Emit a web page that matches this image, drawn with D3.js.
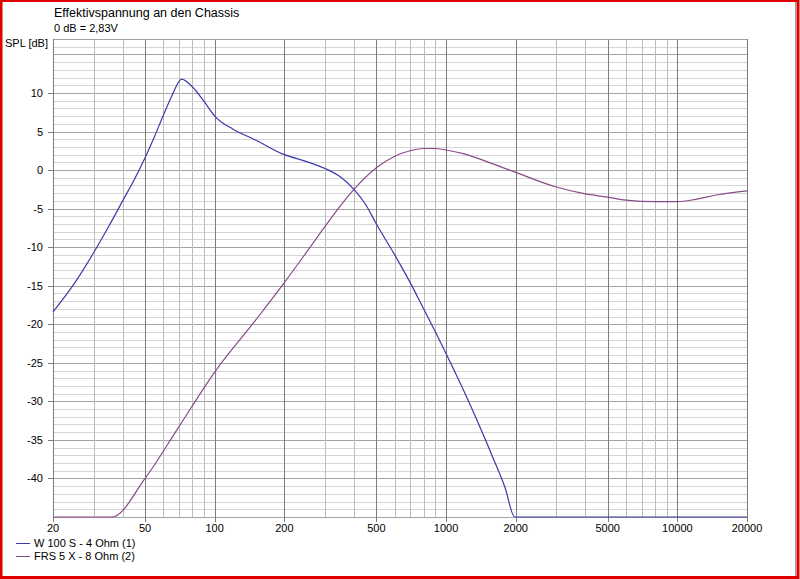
<!DOCTYPE html>
<html><head><meta charset="utf-8">
<script src="https://cdn.jsdelivr.net/npm/d3@7"></script>
<style>body{margin:0;background:#fff;}svg{display:block;}</style>
</head><body>
<svg id="c" width="800" height="579"></svg>
<script>
const title = "Effektivspannung an den Chassis";
const subtitle = "0 dB = 2,83V";
const yTitle = "SPL [dB]";
const xTickLabels = [20, 50, 100, 200, 500, 1000, 2000, 5000, 10000, 20000];
const xMinorGrid = [30,40,60,70,80,90,300,400,600,700,800,900,3000,4000,6000,7000,8000,9000];
const yTickLabels = [10, 5, 0, -5, -10, -15, -20, -25, -30, -35, -40];
const seriesNames = ["W 100 S - 4 Ohm (1)", "FRS 5 X - 8 Ohm (2)"];
const seriesColors = ["#3a3aaa", "#8a4a8a"];

const w100Freq = [20, 25, 30, 35, 40, 45, 50, 55, 60, 65, 72, 80, 90, 100, 120, 150, 200, 250, 300, 350, 400, 450, 500, 600, 700, 800, 900, 1000, 1200, 1400, 1600, 1800, 1980, 5000, 20000];
const w100Db   = [-18.4, -14.5, -10.7, -7.2, -4.0, -1.2, 1.6, 4.4, 7.1, 9.5, 11.8, 10.8, 8.9, 7.0, 5.3, 3.9, 2.0, 1.1, 0.2, -0.9, -2.5, -4.5, -7.0, -11.0, -14.6, -18.0, -21.0, -23.8, -28.8, -33.3, -37.4, -41.2, -45, -45, -45];

const frsFreq = [20, 36, 50, 70, 100, 150, 200, 250, 300, 350, 400, 500, 600, 700, 800, 900, 1000, 1200, 1500, 2000, 3000, 4000, 5000, 6000, 8000, 10000, 12000, 15000, 20000];
const frsDb   = [-45, -45, -40, -33.3, -26.2, -19.5, -14.6, -10.6, -7.3, -4.6, -2.5, 0.3, 1.8, 2.5, 2.8, 2.8, 2.6, 2.1, 1.1, -0.3, -2.2, -3.1, -3.5, -3.9, -4.1, -4.1, -3.8, -3.2, -2.7];

const svg = d3.select("#c");
const L = 53, R = 747, T = 39, B = 517;
const x = d3.scaleLog().domain([20, 20000]).range([L, R]);
const y = d3.scaleLinear().domain([-45, 17]).range([B, T]);
const font = "'Liberation Sans', Arial, sans-serif";

svg.append("rect").attr("x",0).attr("y",0).attr("width",800).attr("height",579).attr("fill","#fff");
// horizontal grid
const yMinor = d3.range(-45, 18, 1);
svg.append("g").selectAll("line").data(yMinor).join("line")
  .attr("x1", L).attr("x2", R).attr("y1", d=>Math.round(y(d))+0.5).attr("y2", d=>Math.round(y(d))+0.5)
  .attr("stroke", d => d % 5 === 0 ? "#a4a4a4" : "#d6d6d6").attr("stroke-width",1);
// vertical grid
svg.append("g").selectAll("line").data(xMinorGrid).join("line")
  .attr("x1", d=>Math.round(x(d))+0.5).attr("x2", d=>Math.round(x(d))+0.5).attr("y1", T).attr("y2", B)
  .attr("stroke", "#bdbdbd");
svg.append("g").selectAll("line").data(xTickLabels).join("line")
  .attr("x1", d=>Math.round(x(d))+0.5).attr("x2", d=>Math.round(x(d))+0.5).attr("y1", T).attr("y2", B+5)
  .attr("stroke", "#7c7c7c");
svg.append("line").attr("x1",L).attr("x2",R).attr("y1",T+0.5).attr("y2",T+0.5).attr("stroke","#a4a4a4");
// y ticks
svg.append("g").selectAll("line").data(yTickLabels).join("line")
  .attr("x1", L-5).attr("x2", L).attr("y1", d=>Math.round(y(d))+0.5).attr("y2", d=>Math.round(y(d))+0.5)
  .attr("stroke", "#7c7c7c");
svg.append("line").attr("x1",L+0.5).attr("x2",L+0.5).attr("y1",T).attr("y2",B).attr("stroke","#7c7c7c");

// y labels
svg.append("g").selectAll("text").data(yTickLabels).join("text")
  .attr("x", L-10).attr("y", d=>y(d)+4).attr("text-anchor","end")
  .attr("font-family",font).attr("font-size",11).attr("fill","#000")
  .text(d => d < 0 ? "-" + Math.abs(d) : d);
// x labels
svg.append("g").selectAll("text").data(xTickLabels).join("text")
  .attr("x", d=>x(d)).attr("y", B+15).attr("text-anchor","middle")
  .attr("font-family",font).attr("font-size",11).attr("fill","#000")
  .text(d=>d);

svg.append("text").attr("x",L+1).attr("y",17).attr("font-family",font).attr("font-size",12.5).text(title);
svg.append("text").attr("x",L+1).attr("y",32).attr("font-family",font).attr("font-size",11).text(subtitle);
svg.append("text").attr("x",L-5).attr("y",47).attr("text-anchor","end").attr("font-family",font).attr("font-size",11).text(yTitle);

// curves
const line = d3.line().x(d=>x(d[0])).y(d=>y(d[1])).curve(d3.curveMonotoneX);
svg.append("path").datum(frsFreq.map((f,i)=>[f, frsDb[i]])).attr("d", line)
  .attr("fill","none").attr("stroke",seriesColors[1]).attr("stroke-width",1.2);
svg.append("path").datum(w100Freq.map((f,i)=>[f, w100Db[i]])).attr("d", line)
  .attr("fill","none").attr("stroke",seriesColors[0]).attr("stroke-width",1.2);

// legend
const lg = svg.append("g").selectAll("g").data(seriesNames).join("g")
  .attr("transform",(d,i)=>`translate(0,${543+i*13})`);
lg.append("line").attr("x1",16).attr("x2",30).attr("y1",0.5).attr("y2",0.5).attr("stroke",(d,i)=>seriesColors[i]);
lg.append("text").attr("x",34).attr("y",4).attr("font-family",font).attr("font-size",11).text(d=>d);

// window border
svg.append("line").attr("x1",795.5).attr("x2",795.5).attr("y1",0).attr("y2",576).attr("stroke","#9a9a9a");
svg.append("rect").attr("x",1).attr("y",0.5).attr("width",797).attr("height",577).attr("fill","none").attr("stroke","#e00000").attr("stroke-width",3);
</script>
</body></html>
